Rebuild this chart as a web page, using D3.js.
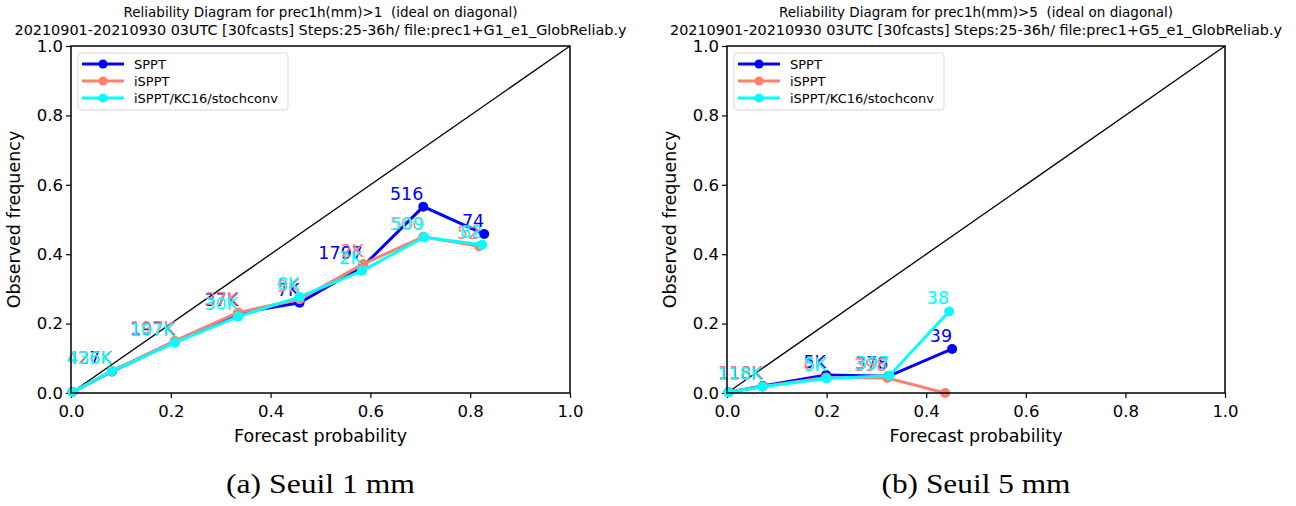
<!DOCTYPE html>
<html><head><meta charset="utf-8">
<script src="https://cdn.jsdelivr.net/npm/d3@7"></script>
<style>body{margin:0;background:#fff;} svg{display:block;} text{white-space:pre;}</style>
</head><body>
<svg id="c" width="1296" height="506"></svg>
<script>
const seriesNames = ["SPPT", "iSPPT", "iSPPT/KC16/stochconv"];
const seriesColors = ["#0000ff", "#fa8072", "#00ffff"];
const tickValues = [0, 0.2, 0.4, 0.6, 0.8, 1.0];

// Panel (a) threshold 1 mm
const a_SPPT_x = [0.003, 0.082, 0.208, 0.335, 0.458, 0.585, 0.706, 0.828];
const a_SPPT_y = [0.003, 0.062, 0.147, 0.230, 0.260, 0.365, 0.537, 0.458];
const a_SPPT_n = ["", "427K", "197K", "37K", "7K", "1797", "516", "74"];
const a_iSPPT_x = [0.003, 0.082, 0.208, 0.335, 0.458, 0.586, 0.706, 0.818];
const a_iSPPT_y = [0.003, 0.064, 0.150, 0.232, 0.270, 0.372, 0.450, 0.423];
const a_iSPPT_n = ["", "426K", "197K", "37K", "9K", "2K", "500", "52"];
const a_KC_x = [0.003, 0.082, 0.208, 0.335, 0.458, 0.583, 0.708, 0.824];
const a_KC_y = [0.003, 0.063, 0.145, 0.220, 0.277, 0.352, 0.449, 0.427];
const a_KC_n = ["", "436K", "107K", "30K", "8K", "2K", "509", "82"];

// Panel (b) threshold 5 mm
const b_SPPT_x = [0.003, 0.072, 0.199, 0.324, 0.452];
const b_SPPT_y = [0.002, 0.020, 0.052, 0.048, 0.127];
const b_SPPT_n = ["", "118K", "5K", "378", "39"];
const b_iSPPT_x = [0.003, 0.072, 0.199, 0.322, 0.438];
const b_iSPPT_y = [0.002, 0.019, 0.045, 0.043, 0.000];
const b_iSPPT_n = ["", "118K", "6K", "398", ""];
const b_KC_x = [0.003, 0.071, 0.200, 0.326, 0.446];
const b_KC_y = [0.002, 0.018, 0.042, 0.050, 0.235];
const b_KC_n = ["", "118K", "5K", "397", "38"];

const panels = [
  {left:71, right:570, top:46, bottom:393,
   title1:"Reliability Diagram for prec1h(mm)>1  (ideal on diagonal)",
   title2:"20210901-20210930 03UTC [30fcasts] Steps:25-36h/ file:prec1+G1_e1_GlobReliab.y",
   caption:"(a) Seuil 1 mm",
   series:[[a_SPPT_x,a_SPPT_y,a_SPPT_n],[a_iSPPT_x,a_iSPPT_y,a_iSPPT_n],[a_KC_x,a_KC_y,a_KC_n]]},
  {left:727, right:1225, top:46, bottom:393,
   title1:"Reliability Diagram for prec1h(mm)>5  (ideal on diagonal)",
   title2:"20210901-20210930 03UTC [30fcasts] Steps:25-36h/ file:prec1+G5_e1_GlobReliab.y",
   caption:"(b) Seuil 5 mm",
   series:[[b_SPPT_x,b_SPPT_y,b_SPPT_n],[b_iSPPT_x,b_iSPPT_y,b_iSPPT_n],[b_KC_x,b_KC_y,b_KC_n]]}
];

const svg = d3.select("#c");
const font = "DejaVu Sans, sans-serif";

panels.forEach(p => {
  const x = d3.scaleLinear().domain([0,1]).range([p.left, p.right]);
  const y = d3.scaleLinear().domain([0,1]).range([p.bottom, p.top]);
  const cx = (p.left + p.right)/2;
  const g = svg.append("g");

  // titles
  g.append("text").attr("x", cx).attr("y", 17).attr("text-anchor","middle")
    .attr("font-family", font).attr("font-size", 13.5)
    .attr("textLength", 394).attr("lengthAdjust","spacingAndGlyphs").text(p.title1);
  g.append("text").attr("x", cx).attr("y", 35).attr("text-anchor","middle")
    .attr("font-family", font).attr("font-size", 14)
    .attr("textLength", 612).attr("lengthAdjust","spacingAndGlyphs").text(p.title2);

  // axes
  const xa = g.append("g").attr("transform", `translate(0,${p.bottom})`)
    .call(d3.axisBottom(x).tickValues(tickValues).tickFormat(d3.format(".1f")).tickSize(5).tickSizeOuter(0));
  const ya = g.append("g").attr("transform", `translate(${p.left},0)`)
    .call(d3.axisLeft(y).tickValues(tickValues).tickFormat(d3.format(".1f")).tickSize(5).tickSizeOuter(0));
  [xa, ya].forEach(a => {
    a.select(".domain").remove();
    a.selectAll("line").attr("stroke","#000").attr("stroke-width",1.2);
    a.selectAll("text").attr("font-family", font).attr("font-size", 16.5).attr("fill","#000");
  });
  xa.selectAll("text").attr("dy","1em").attr("y", 7);
  ya.selectAll("text").attr("x", -8);

  // clip
  const clipId = "clip" + p.left;
  svg.append("clipPath").attr("id", clipId).append("rect")
    .attr("x", p.left).attr("y", p.top).attr("width", p.right-p.left).attr("height", p.bottom-p.top);

  // diagonal
  g.append("line").attr("x1", x(0)).attr("y1", y(0)).attr("x2", x(1)).attr("y2", y(1))
    .attr("stroke","#000").attr("stroke-width",1.3);

  // series
  p.series.forEach((s, i) => {
    const pts = s[0].map((v, k) => ({x:v, y:s[1][k], n:s[2][k]}));
    const sg = g.append("g");
    sg.append("path").datum(pts).attr("clip-path", `url(#${clipId})`)
      .attr("d", d3.line().x(d => x(d.x)).y(d => y(d.y)))
      .attr("fill","none").attr("stroke", seriesColors[i]).attr("stroke-width", 3);
    sg.selectAll("circle").data(pts).join("circle")
      .attr("cx", d => x(d.x)).attr("cy", d => y(d.y)).attr("r", 5)
      .attr("fill", seriesColors[i]);
    sg.selectAll("text").data(pts.filter(d => d.n !== "")).join("text")
      .attr("x", d => x(d.x)).attr("y", d => y(d.y) - 7)
      .attr("text-anchor","end").attr("font-family", font).attr("font-size", 17.5)
      .attr("fill", seriesColors[i]).text(d => d.n);
  });

  // frame
  g.append("rect").attr("x", p.left).attr("y", p.top).attr("width", p.right-p.left).attr("height", p.bottom-p.top)
    .attr("fill","none").attr("stroke","#000").attr("stroke-width",1.5);

  // legend
  const lx = p.left + 7, ly = p.top + 7;
  const lg = g.append("g");
  lg.append("rect").attr("x", lx).attr("y", ly).attr("width", 210).attr("height", 57).attr("rx", 3)
    .attr("fill","#fff").attr("fill-opacity",0.8).attr("stroke","#d9d9d9").attr("stroke-width",1);
  seriesNames.forEach((nm, i) => {
    const yy = ly + 11 + i*17;
    lg.append("line").attr("x1", lx+4).attr("x2", lx+46).attr("y1", yy).attr("y2", yy)
      .attr("stroke", seriesColors[i]).attr("stroke-width", 3);
    lg.append("circle").attr("cx", lx+25).attr("cy", yy).attr("r", 4.5).attr("fill", seriesColors[i]);
    lg.append("text").attr("x", lx+56).attr("y", yy+4.5).attr("font-family", font).attr("font-size", 13)
      .text(nm);
  });

  // axis labels
  g.append("text").attr("x", cx).attr("y", 442).attr("text-anchor","middle")
    .attr("font-family", font).attr("font-size", 17.5).text("Forecast probability");
  g.append("text").attr("transform", `translate(${p.left-51},${(p.top+p.bottom)/2}) rotate(-90)`)
    .attr("text-anchor","middle").attr("font-family", font).attr("font-size", 17.5).text("Observed frequency");

  // caption
  g.append("text").attr("x", cx).attr("y", 493).attr("text-anchor","middle")
    .attr("font-family", "Liberation Serif, DejaVu Serif, serif").attr("font-size", 27)
    .attr("textLength", 189).attr("lengthAdjust","spacingAndGlyphs").text(p.caption);
});
</script>
</body></html>
